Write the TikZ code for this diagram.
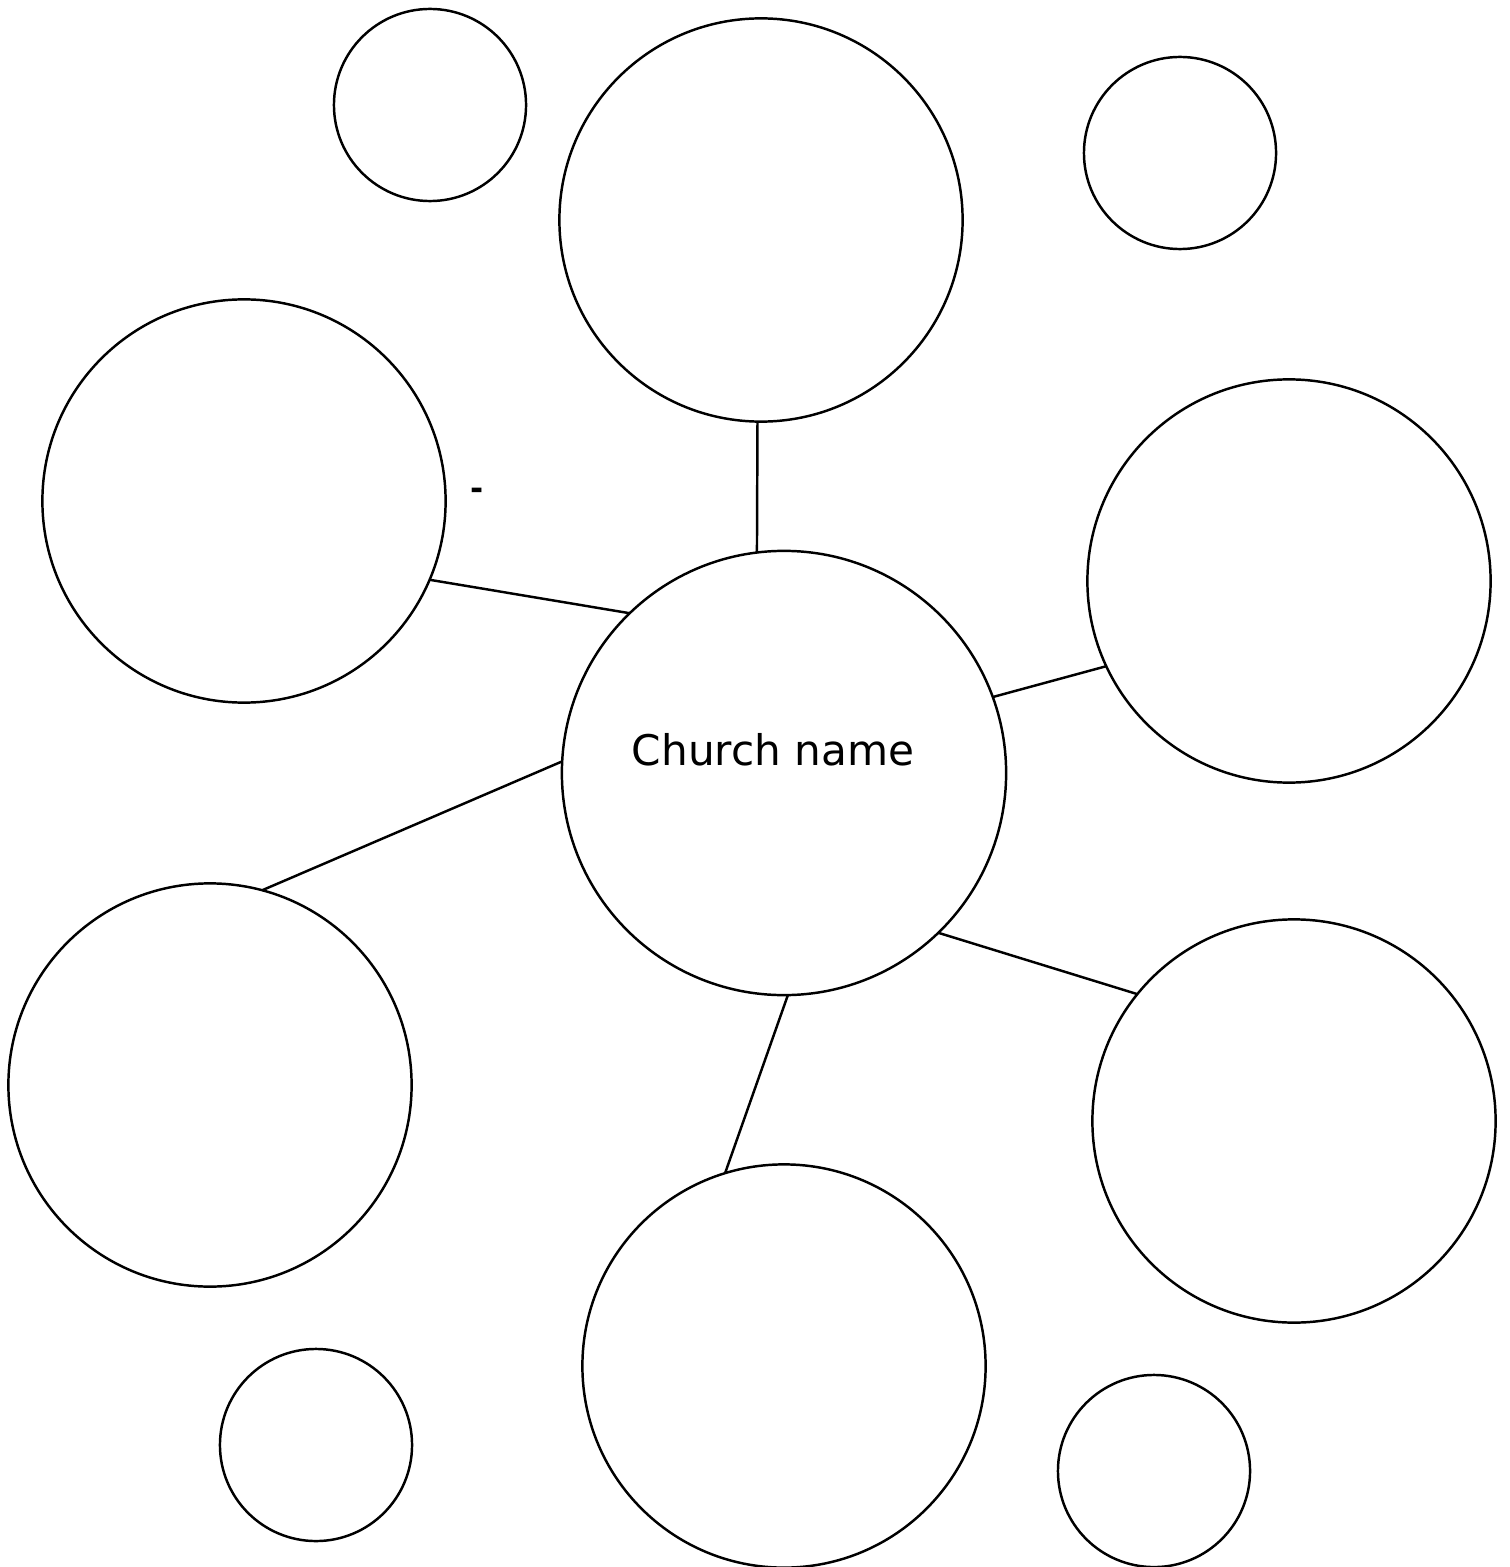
\documentclass[tikz,border=0pt]{standalone}
\usepackage{fontspec}
\setmainfont{DejaVu Sans}

\begin{document}
\begin{tikzpicture}[x=0.01cm,y=-0.01cm,line width=0.7pt,
 bubble/.style={circle,draw,inner sep=0pt,outer sep=0pt,minimum size=#1},
 every node/.style={font=\fontsize{12}{14}\selectfont}]
\useasboundingbox (0,0) rectangle (1509,1567);
\node[bubble=4.44cm] (church) at (784,773) {};
\node (title) at (773,750) {Church name};
\foreach \n/\x/\y in {top/761/220,leftup/244/501,rightup/1289/581,leftlow/210/1085,rightlow/1294/1121,bottom/784/1366}{\node[bubble=4.03cm] (\n) at (\x,\y) {};}
\foreach \n/\x/\y in {s1/430/105,s2/1180/153,s3/316/1445,s4/1154/1471}{\node[bubble=1.92cm] (\n) at (\x,\y) {};}
\foreach \n/\a/\b in {top/269/97,leftup/-23/134,rightup/205/20,leftlow/75/177,rightlow/141/-46,bottom/107/-89}{\draw (\n.\a) -- (church.\b);}
\node[font=\fontsize{9}{10}\bfseries] (dash) at (477,494) {-};
\end{tikzpicture}
\end{document}
